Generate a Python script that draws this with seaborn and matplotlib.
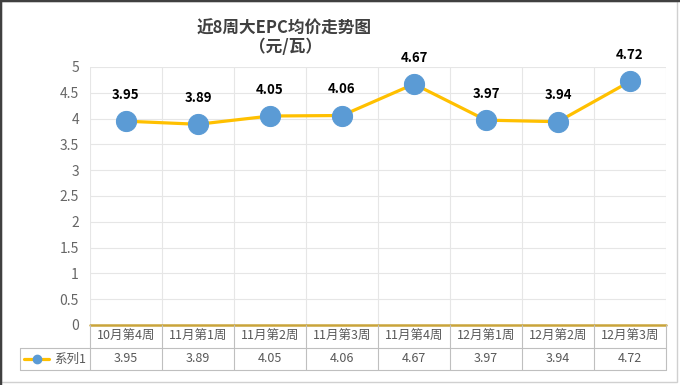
import matplotlib
matplotlib.use("Agg")
import matplotlib.pyplot as plt
import seaborn as sns
import pandas as pd
from matplotlib.patches import Rectangle

# data
weeks = ["10月第4周", "11月第1周", "11月第2周", "11月第3周", "11月第4周", "12月第1周", "12月第2周", "12月第3周"]
prices = [3.95, 3.89, 4.05, 4.06, 4.67, 3.97, 3.94, 4.72]
series_name = "系列1"
yticks = [0, 0.5, 1, 1.5, 2, 2.5, 3, 3.5, 4, 4.5, 5]

df = pd.DataFrame({"pos": range(len(weeks)), "price": prices})

sns.set_theme(style="white")
plt.rcParams["font.family"] = ["Noto Sans CJK SC", "DejaVu Sans"]

line_c = "#FFC000"
dot_c = "#5B9BD5"
grid_c = "#E6E6E6"
tab_c = "#BFBFBF"
txt_c = "#595959"

W, H = 680, 385
fig = plt.figure(figsize=(6.8, 3.85), dpi=100)
L, R, T, B = 90, 666, 67, 325
ax = fig.add_axes([L / W, 1 - B / H, (R - L) / W, (B - T) / H])

n = len(weeks)
ax.set_xlim(-0.5, n - 0.5)
ax.set_ylim(0, 5)

# grid
for y in yticks[1:]:
    ax.axhline(y, color=grid_c, lw=0.8, zorder=0)
for i in range(n + 1):
    ax.axvline(i - 0.5, color=grid_c, lw=0.8, zorder=0)
ax.axhline(0, color="#C9A43A", lw=1.8, zorder=1, clip_on=False)

sns.lineplot(data=df, x="pos", y="price", ax=ax, color=line_c, lw=2.3,
             marker="o", markersize=14.5, markerfacecolor=dot_c,
             markeredgecolor=dot_c, zorder=3)

for i, v in enumerate(prices):
    ax.annotate(f"{v:.2f}", (i, v), xytext=(0, 19), textcoords="offset points",
                ha="center", va="center", fontsize=9.5, fontweight="bold", color="black")

for s in ax.spines.values():
    s.set_visible(False)
ax.set_xticks([])
ax.set_yticks(yticks)
ax.set_yticklabels([f"{t:g}" for t in yticks], fontsize=10, color="#666666")
ax.tick_params(axis="y", length=0, pad=8)
ax.set_xlabel("")
ax.set_ylabel("")

# data table under the axis
tr = ax.get_xaxis_transform()
row1_bot = -23 / (B - T)
row2_bot = -45 / (B - T)
x_left = -0.5 - (L - 20) / ((R - L) / n)
ax.plot([-0.5, -0.5], [0, row2_bot], transform=tr, color=tab_c, lw=0.8, clip_on=False)
for i in range(n):
    ax.plot([i + 0.5, i + 0.5], [0, row2_bot], transform=tr, color=tab_c, lw=0.8, clip_on=False)
    ax.text(i, row1_bot / 2, weeks[i], transform=tr, ha="center", va="center",
            fontsize=9, color=txt_c)
    ax.text(i, (row1_bot + row2_bot) / 2, f"{prices[i]:.2f}", transform=tr,
            ha="center", va="center", fontsize=9, color=txt_c)
ax.plot([x_left, n - 0.5], [row1_bot, row1_bot], transform=tr, color=tab_c, lw=0.8, clip_on=False)
ax.plot([x_left, n - 0.5], [row2_bot, row2_bot], transform=tr, color=tab_c, lw=0.8, clip_on=False)
ax.plot([x_left, x_left], [row1_bot, row2_bot], transform=tr, color=tab_c, lw=0.8, clip_on=False)

# legend key in table
ym = (row1_bot + row2_bot) / 2
ax.plot([x_left + 0.06, x_left + 0.4], [ym, ym], transform=tr, color=line_c, lw=2.3, clip_on=False)
ax.plot([x_left + 0.23], [ym], transform=tr, marker="o", markersize=6, color=dot_c, clip_on=False)
ax.text(x_left + 0.47, ym, series_name, transform=tr, ha="left", va="center",
        fontsize=9, color=txt_c)

# title
fig.text(284 / W, 1 - 29 / H, "近8周大EPC均价走势图", ha="center", va="center",
         fontsize=12, fontweight="bold", color="#404040")
fig.text(285 / W, 1 - 47 / H, "（元/瓦）", ha="center", va="center",
         fontsize=12, fontweight="bold", color="#404040")

# outer frame
fig.patches.append(Rectangle((0.5 / W, 3 / H), 676 / W, 381.5 / H, transform=fig.transFigure,
                             fill=False, edgecolor="#D0D0D0", lw=1))
fig.add_artist(plt.Line2D([0, 0], [0, 1], transform=fig.transFigure, color="#404040", lw=2.5))
fig.add_artist(plt.Line2D([0, 1], [1, 1], transform=fig.transFigure, color="#404040", lw=2.5))

fig.savefig("out.png", dpi=100)
